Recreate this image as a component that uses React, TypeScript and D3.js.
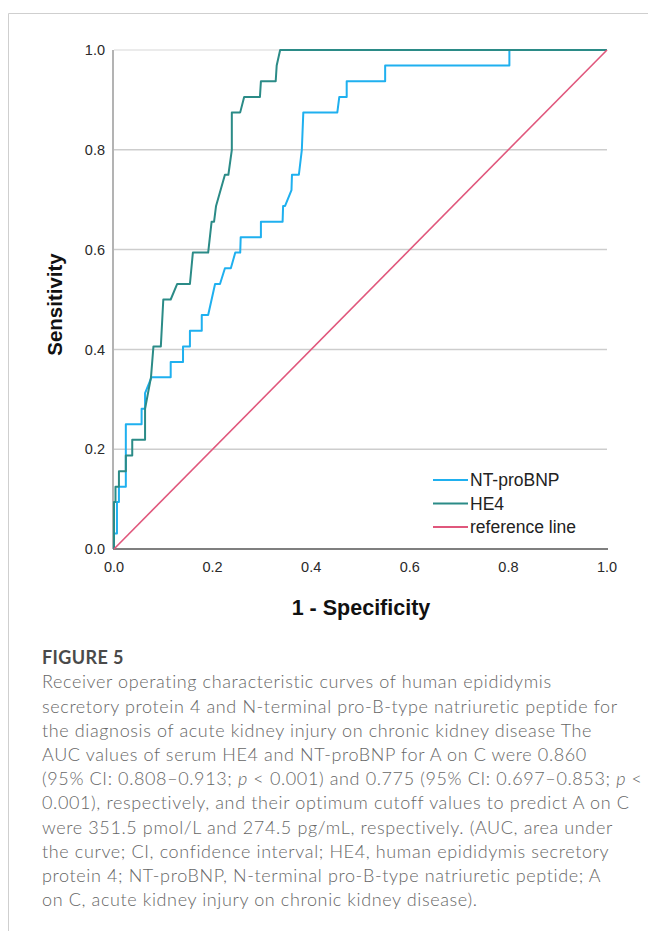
import React from "react";
import * as d3 from "d3";

// ---- data ----
const yTicks = [0, 0.2, 0.4, 0.6, 0.8, 1.0];
const xTicks = [0, 0.2, 0.4, 0.6, 0.8, 1.0];

// [1 - specificity, sensitivity]
const he4Points: [number, number][] = [
  [0, 0], [0, 0.094], [0.003, 0.094], [0.003, 0.125], [0.01, 0.125], [0.01, 0.156],
  [0.024, 0.156], [0.024, 0.1875], [0.037, 0.1875], [0.037, 0.219], [0.063, 0.219],
  [0.063, 0.281], [0.075, 0.344], [0.08, 0.406], [0.095, 0.406], [0.1, 0.5],
  [0.115, 0.5], [0.128, 0.531], [0.154, 0.531], [0.16, 0.594], [0.191, 0.594],
  [0.198, 0.656], [0.203, 0.656], [0.207, 0.6875], [0.225, 0.75], [0.232, 0.75],
  [0.239, 0.8], [0.239, 0.875], [0.256, 0.875], [0.264, 0.906], [0.296, 0.906],
  [0.298, 0.9375], [0.328, 0.9375], [0.33, 0.969], [0.337, 1.0], [1, 1.0],
];

const ntProBnpPoints: [number, number][] = [
  [0, 0], [0, 0.031], [0.006, 0.031], [0.006, 0.094], [0.01, 0.094], [0.01, 0.125],
  [0.024, 0.125], [0.024, 0.25], [0.056, 0.25], [0.056, 0.281], [0.063, 0.281],
  [0.063, 0.3125], [0.076, 0.344], [0.115, 0.344], [0.115, 0.375], [0.14, 0.375],
  [0.14, 0.406], [0.154, 0.406], [0.154, 0.4375], [0.178, 0.4375], [0.178, 0.469],
  [0.191, 0.469], [0.205, 0.531], [0.215, 0.531], [0.225, 0.5625], [0.237, 0.5625],
  [0.246, 0.594], [0.256, 0.594], [0.257, 0.625], [0.298, 0.625], [0.298, 0.656],
  [0.342, 0.656], [0.343, 0.6875], [0.347, 0.6875], [0.36, 0.719], [0.361, 0.75],
  [0.375, 0.75], [0.381, 0.8], [0.384, 0.875], [0.453, 0.875], [0.457, 0.906],
  [0.472, 0.906], [0.472, 0.9375], [0.55, 0.9375], [0.55, 0.969], [0.802, 0.969],
  [0.802, 1.0], [1, 1.0],
];

const referencePoints: [number, number][] = [[0, 0], [1, 1]];

const legendLabels = ["NT-proBNP", "HE4", "reference line"];
const seriesColors = ["#1fb0ef", "#2b8b87", "#e0577c"];

const captionTitle = "FIGURE 5";
const captionLines = [
  "Receiver operating characteristic curves of human epididymis",
  "secretory protein 4 and N-terminal pro-B-type natriuretic peptide for",
  "the diagnosis of acute kidney injury on chronic kidney disease The",
  "AUC values of serum HE4 and NT-proBNP for A on C were 0.860",
  "(95% CI: 0.808\u20130.913; |p| < 0.001) and 0.775 (95% CI: 0.697\u20130.853; |p| <",
  "0.001), respectively, and their optimum cutoff values to predict A on C",
  "were 351.5 pmol/L and 274.5 pg/mL, respectively. (AUC, area under",
  "the curve; CI, confidence interval; HE4, human epididymis secretory",
  "protein 4; NT-proBNP, N-terminal pro-B-type natriuretic peptide; A",
  "on C, acute kidney injury on chronic kidney disease).",
];

export default function App() {
  const W = 648;
  const H = 931;
  const x = d3.scaleLinear().domain([0, 1]).range([114, 607]);
  const y = d3.scaleLinear().domain([0, 1]).range([549, 50]);
  const line = d3
    .line<[number, number]>()
    .x((d) => x(d[0]))
    .y((d) => y(d[1]));

  const series = [ntProBnpPoints, he4Points, referencePoints];
  const axisFont = "'Liberation Sans', Arial, sans-serif";
  const capFont = "Lato, 'Open Sans', sans-serif";

  const renderCaptionLine = (s: string) => {
    const parts = s.split("|");
    return parts.map((p, i) =>
      i % 2 === 1 ? (
        <tspan key={i} fontStyle="italic">{p}</tspan>
      ) : (
        <tspan key={i}>{p}</tspan>
      )
    );
  };

  return (
    <svg
      width={W}
      height={H}
      style={{ position: "absolute", left: 0, top: 0, background: "#fff" }}
    >
      {/* frame */}
      <line x1={8.5} x2={W} y1={13.5} y2={13.5} stroke="#cfcfcf" strokeWidth={1} />
      <line x1={8.5} x2={8.5} y1={13.5} y2={H} stroke="#cfcfcf" strokeWidth={1} />

      {/* gridlines */}
      {yTicks.filter((t) => t > 0).map((t) => (
        <line
          key={"g" + t}
          x1={x(0)}
          x2={x(1)}
          y1={y(t)}
          y2={y(t)}
          stroke={t === 1 ? "#e4e4e4" : "#cdcdcd"}
          strokeWidth={1.5}
        />
      ))}

      {/* axes */}
      <line x1={x(0) - 1} x2={x(0) - 1} y1={y(1)} y2={y(0)} stroke="#9a9a9a" strokeWidth={1.5} />
      <line x1={x(0) - 1} x2={x(1) + 1} y1={y(0)} y2={y(0)} stroke="#555" strokeWidth={1.5} />

      {/* y tick labels */}
      {yTicks.map((t) => (
        <text
          key={"y" + t}
          x={105}
          y={y(t)}
          dy="0.36em"
          textAnchor="end"
          fontFamily={axisFont}
          fontSize={14.5}
          fill="#2a2a2a"
        >
          {t.toFixed(1)}
        </text>
      ))}
      {/* x tick labels */}
      {xTicks.map((t) => (
        <text
          key={"x" + t}
          x={x(t)}
          y={567}
          dy="0.36em"
          textAnchor="middle"
          fontFamily={axisFont}
          fontSize={14.5}
          fill="#2a2a2a"
        >
          {t.toFixed(1)}
        </text>
      ))}

      {/* axis titles */}
      <text
        x={361}
        y={607}
        dy="0.36em"
        textAnchor="middle"
        fontFamily={axisFont}
        fontWeight="bold"
        fontSize={21.5}
        fill="#111"
      >
        1 - Specificity
      </text>
      <text
        transform={`translate(55,${y(0.5) + 5}) rotate(-90)`}
        dy="0.36em"
        textAnchor="middle"
        fontFamily={axisFont}
        fontWeight="bold"
        fontSize={20.5}
        fill="#111"
      >
        Sensitivity
      </text>

      {/* curves */}
      {series.map((pts, i) => (
        <path
          key={"s" + i}
          d={line(pts) || ""}
          fill="none"
          stroke={seriesColors[i]}
          strokeWidth={i === 2 ? 1.6 : 2}
          strokeLinejoin="round"
        />
      ))}

      {/* legend */}
      {legendLabels.map((lab, i) => {
        const ly = 480 + i * 23.5;
        return (
          <g key={"l" + i}>
            <line x1={433} x2={468} y1={ly} y2={ly} stroke={seriesColors[i]} strokeWidth={2} />
            <text
              x={470}
              y={ly}
              dy="0.36em"
              fontFamily={axisFont}
              fontSize={17.5}
              fill="#222"
            >
              {lab}
            </text>
          </g>
        );
      })}

      {/* caption */}
      <text
        x={42}
        y={658}
        dy="0.36em"
        fontFamily={capFont}
        fontWeight={700}
        fontSize={18}
        letterSpacing={0.4}
        fill="#4a4a4a"
      >
        {captionTitle}
      </text>
      {captionLines.map((s, i) => (
        <text
          key={"c" + i}
          x={42}
          y={682 + i * 24.2}
          dy="0.36em"
          fontFamily={capFont}
          fontWeight={300}
          fontSize={18}
          letterSpacing={0.62}
          fill="#666"
        >
          {renderCaptionLine(s)}
        </text>
      ))}
    </svg>
  );
}
